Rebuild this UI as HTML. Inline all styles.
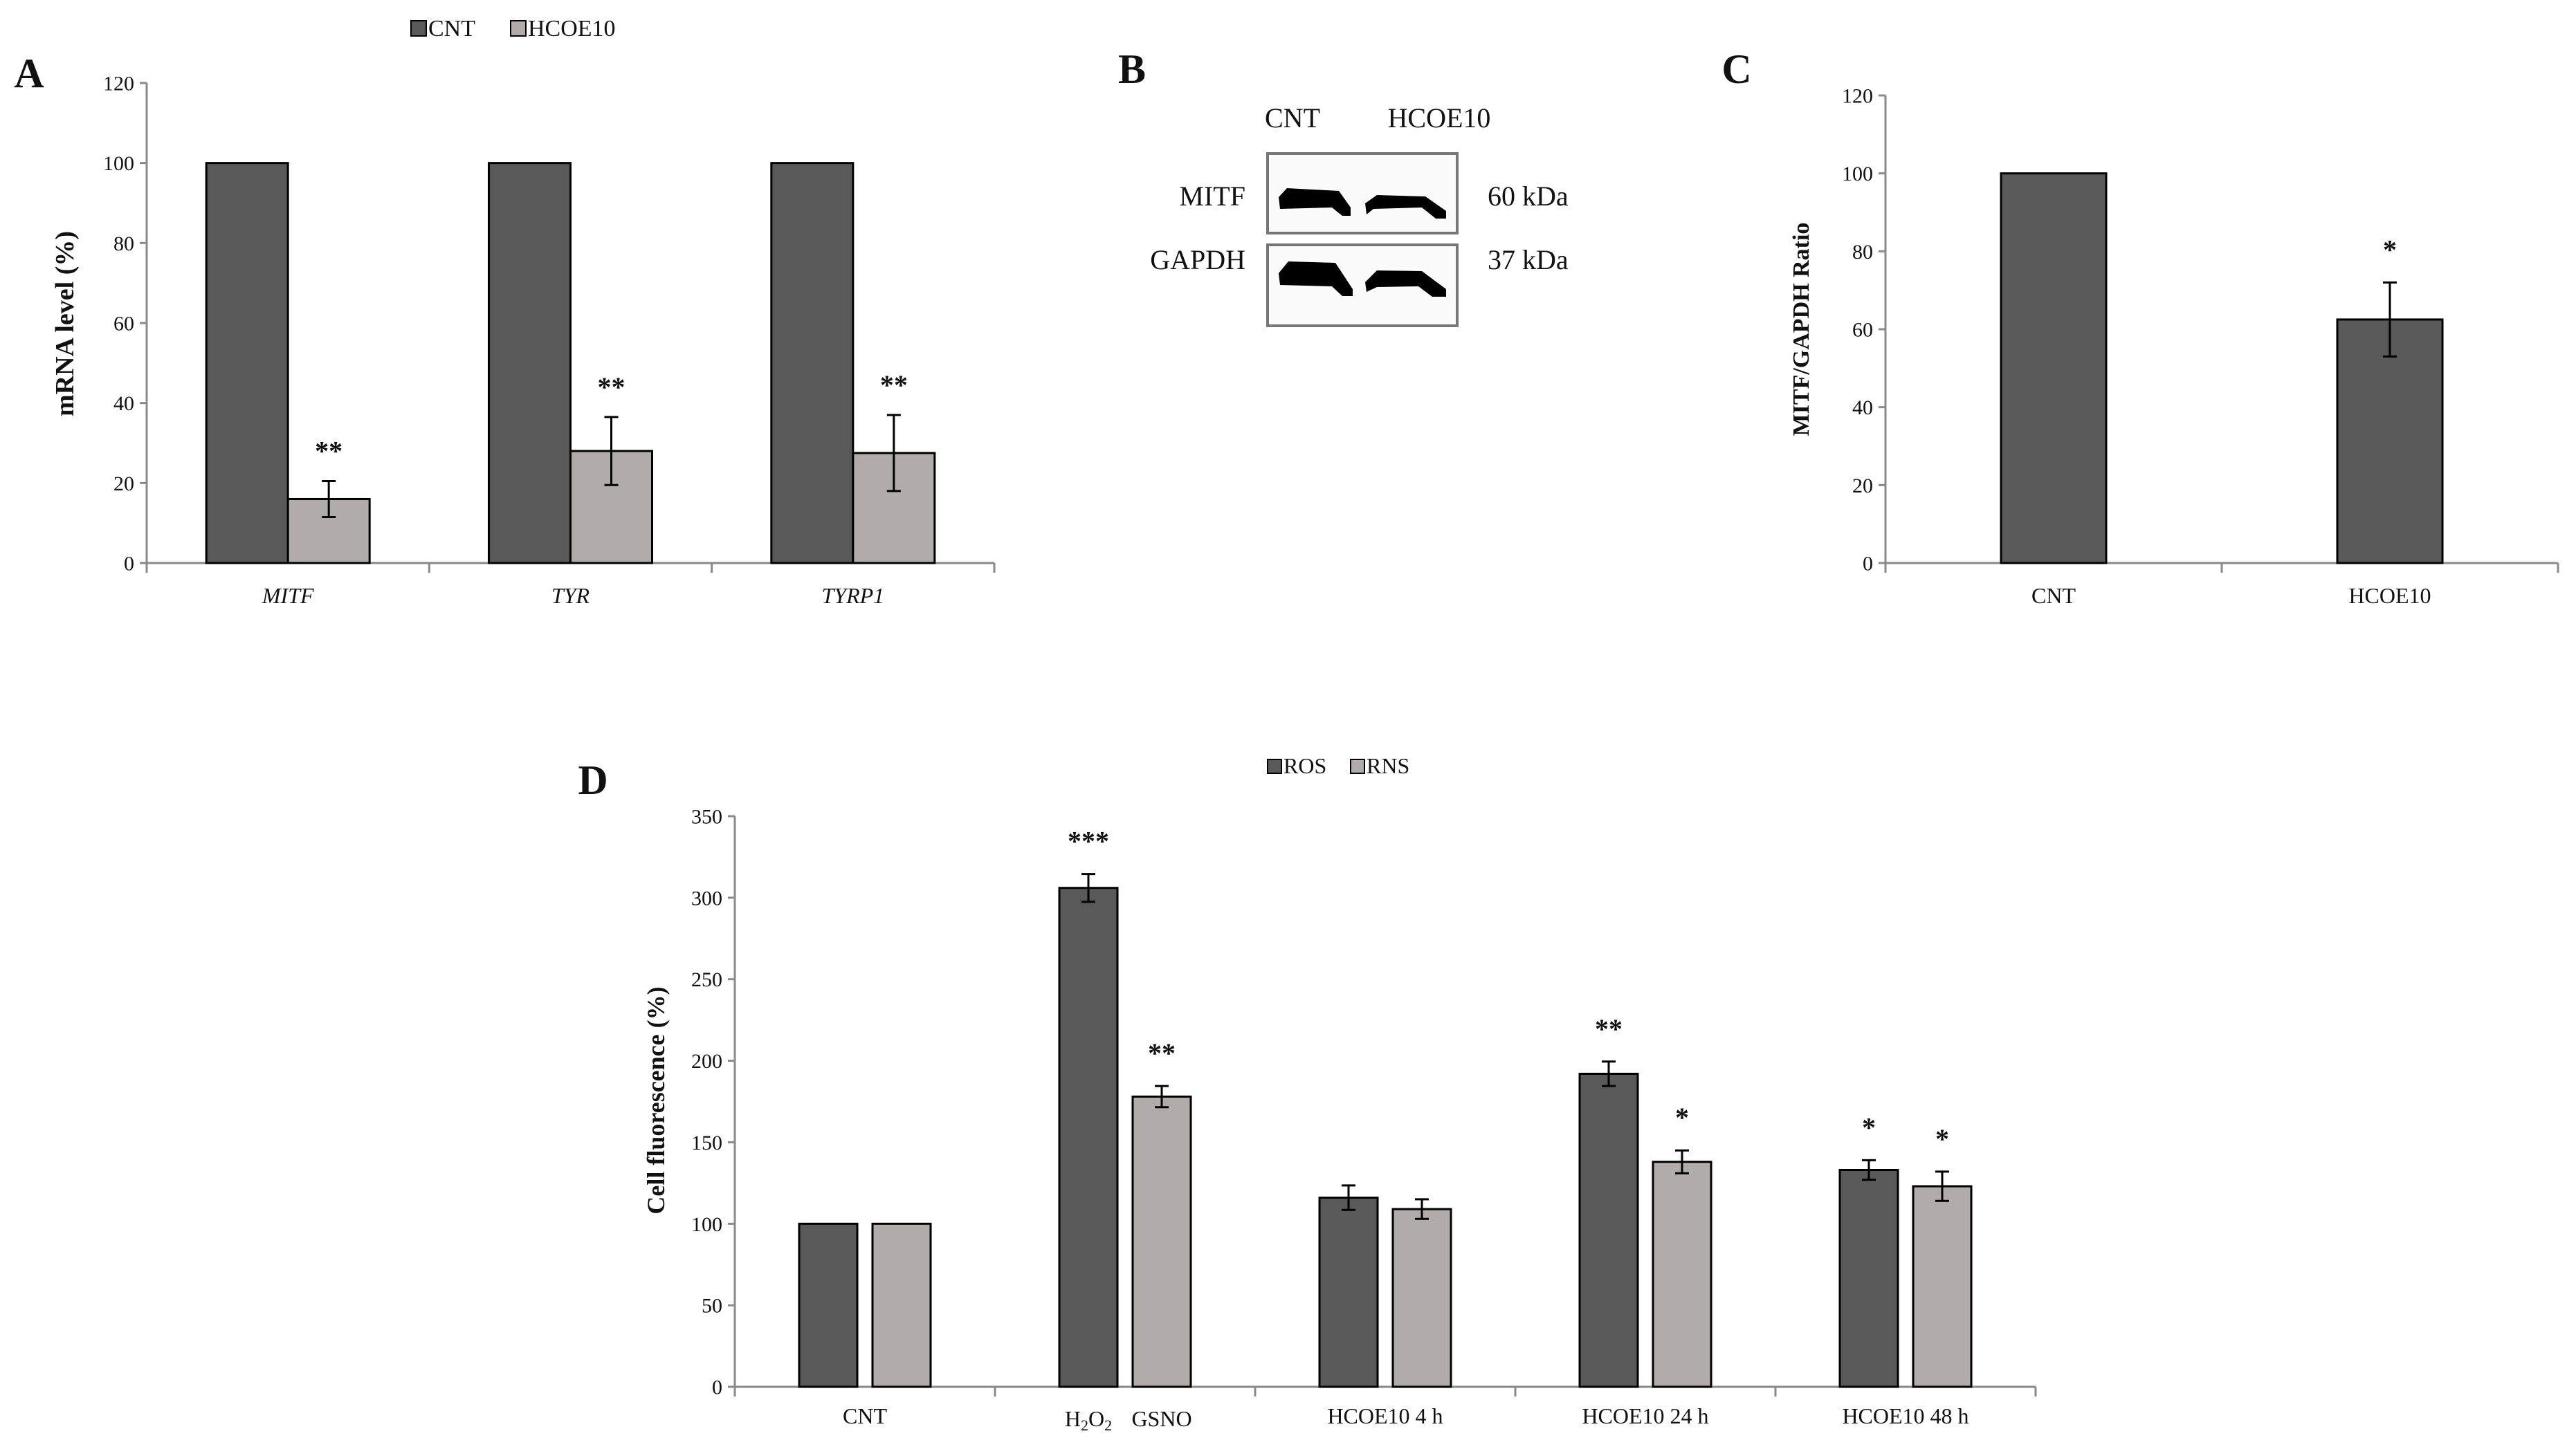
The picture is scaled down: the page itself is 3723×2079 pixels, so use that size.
<!DOCTYPE html>
<html><head><meta charset="utf-8"><style>
html,body{margin:0;padding:0;background:#fff}
svg{display:block}
text{font-family:"Liberation Serif",serif;fill:#111}
</style></head><body>
<svg id="fig" width="3723" height="2079" viewBox="0 0 3723 2079" xmlns="http://www.w3.org/2000/svg">
<g>
<text x="1616" y="120" font-size="60" font-weight="bold">B</text>
<text x="1868" y="184" font-size="40" text-anchor="middle">CNT</text>
<text x="2080" y="184" font-size="40" text-anchor="middle">HCOE10</text>
<text x="1800" y="297" font-size="40" text-anchor="end">MITF</text>
<text x="1800" y="389" font-size="40" text-anchor="end">GAPDH</text>
<text x="2150" y="297" font-size="40">60 kDa</text>
<text x="2150" y="389" font-size="40">37 kDa</text>
<rect x="1832" y="222" width="274" height="115" fill="#fbfbfb" stroke="#777" stroke-width="4"/>
<rect x="1832" y="354" width="274" height="117" fill="#fbfbfb" stroke="#777" stroke-width="4"/>
<path d="M1848 285 L1860 272 L1935 276 L1952 300 L1952 312 L1940 312 L1925 300 L1850 302 Z" fill="#000"/>
<path d="M1973 294 L1990 282 L2060 284 L2090 305 L2090 316 L2075 316 L2055 300 L1985 302 L1975 310 Z" fill="#000"/>
<path d="M1848 395 L1862 378 L1930 380 L1955 418 L1955 428 L1940 428 L1925 414 L1850 412 Z" fill="#000"/>
<path d="M1973 408 L1990 391 L2055 392 L2090 418 L2090 429 L2070 429 L2050 414 L1990 415 L1975 422 Z" fill="#000"/>
</g>
</svg>
<script>
// Panel A data
const aCategories = ["MITF", "TYR", "TYRP1"];
const aCnt = [100, 100, 100];
const aHcoe = [16, 28, 27.5];
const aHcoeErr = [4.5, 8.5, 9.5];
const aStars = ["**", "**", "**"];
const aTicks = [0, 20, 40, 60, 80, 100, 120];
// Panel C data
const cCategories = ["CNT", "HCOE10"];
const cValues = [100, 62.5];
const cErr = [0, 9.5];
const cStars = ["", "*"];
const cTicks = [0, 20, 40, 60, 80, 100, 120];
// Panel D data
const dCategories = ["CNT", "H2O2|GSNO", "HCOE10 4 h", "HCOE10 24 h", "HCOE10 48 h"];
const dRos = [100, 306, 116, 192, 133];
const dRosErr = [0, 8.5, 7.5, 7.5, 6];
const dRosStars = ["", "***", "", "**", "*"];
const dRns = [100, 178, 109, 138, 123];
const dRnsErr = [0, 6.5, 6, 7, 9];
const dRnsStars = ["", "**", "", "*", "*"];
const dTicks = [0, 50, 100, 150, 200, 250, 300, 350];

const NS = "http://www.w3.org/2000/svg";
const svg = document.getElementById("fig");
const DARK = "#595959", LIGHT = "#b1acaa", AXIS = "#8a8a8a";
function mk(tag, attrs, parent) {
  const e = document.createElementNS(NS, tag);
  for (const k in attrs) e.setAttribute(k, attrs[k]);
  (parent || svg).appendChild(e);
  return e;
}
function txt(x, y, s, size, parent, extra) {
  const t = mk("text", Object.assign({x: x, y: y, "font-size": size, "text-anchor": "middle"}, extra || {}), parent);
  t.textContent = s;
  return t;
}
function axes(g, x0, x1, y0, yTop, maxV, ticks, nCat, tickFont, ticklen) {
  const sy = v => y0 - (v / maxV) * (y0 - yTop);
  const yl = mk("line", {x1: x0, y1: y0, x2: x0, y2: yTop, stroke: AXIS, "stroke-width": 3}, g);
  
  
  const xl = mk("line", {x1: x0, y1: y0, x2: x1, y2: y0, stroke: AXIS, "stroke-width": 3}, g);
  
  
  ticks.forEach(v => {
    const y = sy(v);
    mk("line", {x1: x0 - 10, y1: y, x2: x0, y2: y, stroke: AXIS, "stroke-width": 3}, g);
    const t = txt(x0 - 18, y + tickFont * 0.35, String(v), tickFont, g, {"text-anchor": "end"});
    
    
  });
  const cw = (x1 - x0) / nCat;
  for (let i = 0; i <= nCat; i++) {
    mk("line", {x1: x0 + i * cw, y1: y0, x2: x0 + i * cw, y2: y0 + ticklen, stroke: AXIS, "stroke-width": 3}, g);
  }
  return {sy: sy, cw: cw};
}
function bar(g, x, w, v, sy, y0, fill, name) {
  const r = mk("rect", {x: x, y: sy(v), width: w, height: y0 - sy(v), fill: fill, stroke: "#000", "stroke-width": 3}, g);
  
  
  return r;
}
function errbar(g, cx, v, e, sy) {
  if (!e) return;
  mk("line", {x1: cx, y1: sy(v + e), x2: cx, y2: sy(v - e), stroke: "#000", "stroke-width": 3}, g);
  mk("line", {x1: cx - 10, y1: sy(v + e), x2: cx + 10, y2: sy(v + e), stroke: "#000", "stroke-width": 3}, g);
  mk("line", {x1: cx - 10, y1: sy(v - e), x2: cx + 10, y2: sy(v - e), stroke: "#000", "stroke-width": 3}, g);
}
function star(g, cx, y, s, size) {
  if (!s) return;
  const t = txt(cx, y, s, size, g, {"font-weight": "bold"});
  
  
}
function legendEntry(g, x, y, col, label, size, sq) {
  mk("rect", {x: x, y: y - sq, width: sq, height: sq, fill: col, stroke: "#000", "stroke-width": 2}, g);
  const t = txt(x + sq + 3, y, label, size, g, {"text-anchor": "start"});
  
  
}

// ---- Panel A ----
(function () {
  const g = mk("g", {});
  
  
  const x0 = 212, x1 = 1437, y0 = 814, yTop = 120;
  const ax = axes(g, x0, x1, y0, yTop, 120, aTicks, aCategories.length, 30, 14);
  const bw = 118;
  aCategories.forEach((c, i) => {
    const cx = x0 + ax.cw * (i + 0.5);
    bar(g, cx - bw, bw, aCnt[i], ax.sy, y0, DARK, "bar-cnt-" + c.toLowerCase());
    bar(g, cx, bw, aHcoe[i], ax.sy, y0, LIGHT, "bar-hcoe10-" + c.toLowerCase());
    errbar(g, cx + bw / 2, aHcoe[i], aHcoeErr[i], ax.sy);
    star(g, cx + bw / 2, ax.sy(aHcoe[i] + aHcoeErr[i]) - 30, aStars[i], 40);
    const t = txt(cx, 872, c, 32, g, {"font-style": "italic"});
    
    
  });
  const yt = txt(0, 0, "mRNA level (%)", 38, g, {"font-weight": "bold", transform: "translate(106,468) rotate(-90)"});
  
  
  const lbl = txt(42, 126, "A", 60, g, {"font-weight": "bold"});
  
  
  const lg = mk("g", {}, g);
  
  
  legendEntry(lg, 594, 52, DARK, "CNT", 34, 22);
  legendEntry(lg, 738, 52, LIGHT, "HCOE10", 34, 22);
})();

// ---- Panel C ----
(function () {
  const g = mk("g", {});
  
  
  const x0 = 2725, x1 = 3697, y0 = 814, yTop = 138;
  const ax = axes(g, x0, x1, y0, yTop, 120, cTicks, cCategories.length, 30, 14);
  const bw = 152;
  cCategories.forEach((c, i) => {
    const cx = x0 + ax.cw * (i + 0.5);
    bar(g, cx - bw / 2, bw, cValues[i], ax.sy, y0, DARK, "bar-" + c.toLowerCase());
    errbar(g, cx, cValues[i], cErr[i], ax.sy);
    star(g, cx, ax.sy(cValues[i] + cErr[i]) - 34, cStars[i], 40);
    const t = txt(cx, 872, c, 32, g);
    
    
  });
  const yt = txt(0, 0, "MITF/GAPDH  Ratio", 34, g, {"font-weight": "bold", transform: "translate(2614,476) rotate(-90)"});
  
  
  const lbl = txt(2510, 120, "C", 60, g, {"font-weight": "bold"});
  
  
})();

// ---- Panel D ----
(function () {
  const g = mk("g", {});
  
  
  const x0 = 1062, x1 = 2942, y0 = 2005, yTop = 1180;
  const ax = axes(g, x0, x1, y0, yTop, 350, dTicks, dCategories.length, 30, 14);
  const bw = 84, gap = 22;
  dCategories.forEach((c, i) => {
    const cx = x0 + ax.cw * (i + 0.5);
    const xr = cx - gap / 2 - bw, xn = cx + gap / 2;
    bar(g, xr, bw, dRos[i], ax.sy, y0, DARK, "bar-ros-" + i);
    bar(g, xn, bw, dRns[i], ax.sy, y0, LIGHT, "bar-rns-" + i);
    errbar(g, xr + bw / 2, dRos[i], dRosErr[i], ax.sy);
    errbar(g, xn + bw / 2, dRns[i], dRnsErr[i], ax.sy);
    star(g, xr + bw / 2, ax.sy(dRos[i] + dRosErr[i]) - 34, dRosStars[i], 40);
    star(g, xn + bw / 2, ax.sy(dRns[i] + dRnsErr[i]) - 34, dRnsStars[i], 40);
    if (c.indexOf("|") >= 0) {
      const t1 = txt(xr + bw / 2, 2062, "", 32, g);
      t1.innerHTML = 'H<tspan font-size="22" dy="6">2</tspan><tspan dy="-6">O</tspan><tspan font-size="22" dy="6">2</tspan>';
      
      
      const t2 = txt(xn + bw / 2, 2062, "GSNO", 32, g);
      
      
    } else {
      const t = txt(cx, 2058, c, 32, g);
      
      
    }
  });
  const yt = txt(0, 0, "Cell fluorescence (%)", 36, g, {"font-weight": "bold", transform: "translate(960,1591) rotate(-90)"});
  
  
  const lbl = txt(857, 1148, "D", 60, g, {"font-weight": "bold"});
  
  
  const lg = mk("g", {}, g);
  
  
  legendEntry(lg, 1832, 1118, DARK, "ROS", 32, 20);
  legendEntry(lg, 1952, 1118, LIGHT, "RNS", 32, 20);
})();
</script>
</body></html>
